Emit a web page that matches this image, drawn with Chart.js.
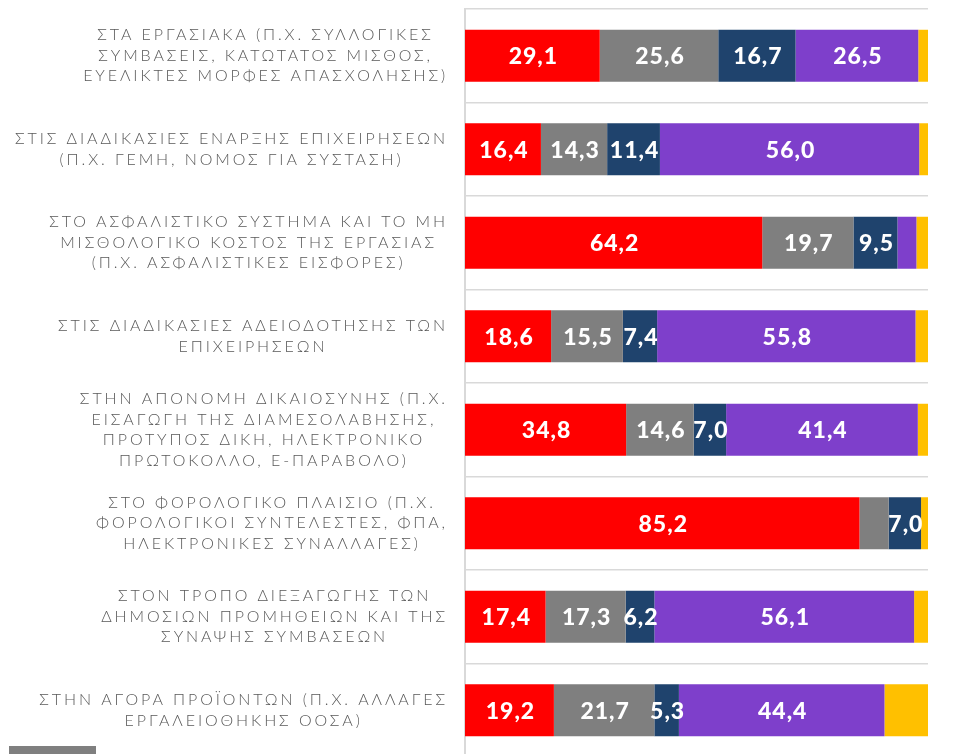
<!DOCTYPE html>
<html lang="el">
<head>
<meta charset="utf-8">
<title>Chart</title>
<script src="https://cdn.jsdelivr.net/npm/chart.js@4.4.1/dist/chart.umd.min.js"></script>
<style>
  html, body { margin: 0; padding: 0; background: #fff; overflow: hidden; }
  #wrap { position: relative; width: 957px; height: 860px; }
  #swatch { position: absolute; left: 9px; top: 746px; width: 87px; height: 12px; background: #7f7f7f; }
</style>
</head>
<body>
<div id="wrap">
  <canvas id="barChart"></canvas>
  <div id="swatch"></div>
</div>
<script>
// Κατηγορίες (κάθε στοιχείο = γραμμές της ετικέτας)
const categories = [
  ['ΣΤΑ ΕΡΓΑΣΙΑΚΑ (Π.Χ. ΣΥΛΛΟΓΙΚΕΣ', 'ΣΥΜΒΑΣΕΙΣ, ΚΑΤΩΤΑΤΟΣ ΜΙΣΘΟΣ,', 'ΕΥΕΛΙΚΤΕΣ ΜΟΡΦΕΣ ΑΠΑΣΧΟΛΗΣΗΣ)'],
  ['ΣΤΙΣ ΔΙΑΔΙΚΑΣΙΕΣ ΕΝΑΡΞΗΣ ΕΠΙΧΕΙΡΗΣΕΩΝ', '(Π.Χ. ΓΕΜΗ, ΝΟΜΟΣ ΓΙΑ ΣΥΣΤΑΣΗ)'],
  ['ΣΤΟ ΑΣΦΑΛΙΣΤΙΚΟ ΣΥΣΤΗΜΑ ΚΑΙ ΤΟ ΜΗ', 'ΜΙΣΘΟΛΟΓΙΚΟ ΚΟΣΤΟΣ ΤΗΣ ΕΡΓΑΣΙΑΣ', '(Π.Χ. ΑΣΦΑΛΙΣΤΙΚΕΣ ΕΙΣΦΟΡΕΣ)'],
  ['ΣΤΙΣ ΔΙΑΔΙΚΑΣΙΕΣ ΑΔΕΙΟΔΟΤΗΣΗΣ ΤΩΝ', 'ΕΠΙΧΕΙΡΗΣΕΩΝ'],
  ['ΣΤΗΝ ΑΠΟΝΟΜΗ ΔΙΚΑΙΟΣΥΝΗΣ (Π.Χ.', 'ΕΙΣΑΓΩΓΗ ΤΗΣ ΔΙΑΜΕΣΟΛΑΒΗΣΗΣ,', 'ΠΡΟΤΥΠΟΣ ΔΙΚΗ, ΗΛΕΚΤΡΟΝΙΚΟ', 'ΠΡΩΤΟΚΟΛΛΟ, Ε-ΠΑΡΑΒΟΛΟ)'],
  ['ΣΤΟ ΦΟΡΟΛΟΓΙΚΟ ΠΛΑΙΣΙΟ (Π.Χ.', 'ΦΟΡΟΛΟΓΙΚΟΙ ΣΥΝΤΕΛΕΣΤΕΣ, ΦΠΑ,', 'ΗΛΕΚΤΡΟΝΙΚΕΣ ΣΥΝΑΛΛΑΓΕΣ)'],
  ['ΣΤΟΝ ΤΡΟΠΟ ΔΙΕΞΑΓΩΓΗΣ ΤΩΝ', 'ΔΗΜΟΣΙΩΝ ΠΡΟΜΗΘΕΙΩΝ ΚΑΙ ΤΗΣ', 'ΣΥΝΑΨΗΣ ΣΥΜΒΑΣΕΩΝ'],
  ['ΣΤΗΝ ΑΓΟΡΑ ΠΡΟΪΟΝΤΩΝ (Π.Χ. ΑΛΛΑΓΕΣ', 'ΕΡΓΑΛΕΙΟΘΗΚΗΣ ΟΟΣΑ)']
];

// Τιμές (%) ανά σειρά
const redValues    = [29.1, 16.4, 64.2, 18.6, 34.8, 85.2, 17.4, 19.2];
const grayValues   = [25.6, 14.3, 19.7, 15.5, 14.6, 6.3, 17.3, 21.7];
const navyValues   = [16.7, 11.4, 9.5, 7.4, 7.0, 7.0, 6.2, 5.3];
const purpleValues = [26.5, 56.0, 4.1, 55.8, 41.4, 0, 56.1, 44.4];
const yellowValues = [2.1, 1.9, 2.5, 2.7, 2.2, 1.5, 3.0, 9.4];

// Ετικέτες τιμών που δεν εμφανίζονται στο πρωτότυπο
const hiddenLabels = [[1, 5]];

const ctx = document.getElementById('barChart').getContext('2d');

// Ετικέτες άξονα Y: κεντραρισμένες γραμμές, μπλοκ στοιχισμένο δεξιά
const categoryLabelsPlugin = {
  id: 'categoryLabels',
  afterDraw(chart) {
    const c = chart.ctx;
    const y = chart.scales.y;
    c.save();
    c.font = '300 16px Lato';
    c.letterSpacing = '2.9px';
    c.fillStyle = '#595959';
    c.textAlign = 'left';
    c.textBaseline = 'middle';
    const lineH = 20.5;
    categories.forEach((lines, i) => {
      const widths = lines.map(l => c.measureText(l).width);
      const blockW = Math.max(...widths);
      const right = 448;
      const cy = y.getPixelForValue(i);
      lines.forEach((l, k) => {
        const ly = cy + (k - (lines.length - 1) / 2) * lineH;
        c.fillText(l, right - blockW + (blockW - widths[k]) / 2, ly);
      });
    });
    c.restore();
  }
};

// Τιμές μέσα στις μπάρες
const valueLabelsPlugin = {
  id: 'valueLabels',
  afterDatasetsDraw(chart) {
    const c = chart.ctx;
    c.save();
    c.font = '900 23px Lato';
    c.letterSpacing = '1px';
    c.fillStyle = '#ffffff';
    c.textAlign = 'center';
    c.textBaseline = 'middle';
    chart.data.datasets.forEach((ds, di) => {
      if (di === 4) return; // κίτρινη σειρά χωρίς ετικέτες
      const meta = chart.getDatasetMeta(di);
      meta.data.forEach((bar, i) => {
        const v = ds.data[i];
        if (v < 5) return;
        if (hiddenLabels.some(h => h[0] === di && h[1] === i)) return;
        const p = bar.getProps(['x', 'base', 'y'], true);
        c.fillText(v.toFixed(1).replace('.', ','), (p.x + p.base) / 2 + 1, p.y + 1);
      });
    });
    c.restore();
  }
};

const series = [
  { data: redValues, color: '#ff0000' },
  { data: grayValues, color: '#7f7f7f' },
  { data: navyValues, color: '#1f436d' },
  { data: purpleValues, color: '#7e3fcb' },
  { data: yellowValues, color: '#ffc000' }
];

new Chart(ctx, {
  type: 'bar',
  data: {
    labels: categories,
    datasets: series.map(s => ({
      data: s.data,
      backgroundColor: s.color,
      borderWidth: 0,
      barPercentage: 0.556,
      categoryPercentage: 1
    }))
  },
  options: {
    indexAxis: 'y',
    responsive: true,
    maintainAspectRatio: false,
    animation: false,
    layout: { padding: { top: 9, bottom: 103, right: 29, left: 0 } },
    plugins: { legend: { display: false }, tooltip: { enabled: false } },
    scales: {
      x: { stacked: true, min: 0, max: 100, display: false },
      y: {
        stacked: true,
        ticks: { display: false },
        grid: { color: '#d9d9d9', lineWidth: 1.5, drawTicks: false, offset: true },
        border: { color: '#d9d9d9', width: 2 },
        afterFit: (s) => { s.width = 465; }
      }
    }
  },
  plugins: [categoryLabelsPlugin, valueLabelsPlugin]
});
</script>
</body>
</html>
